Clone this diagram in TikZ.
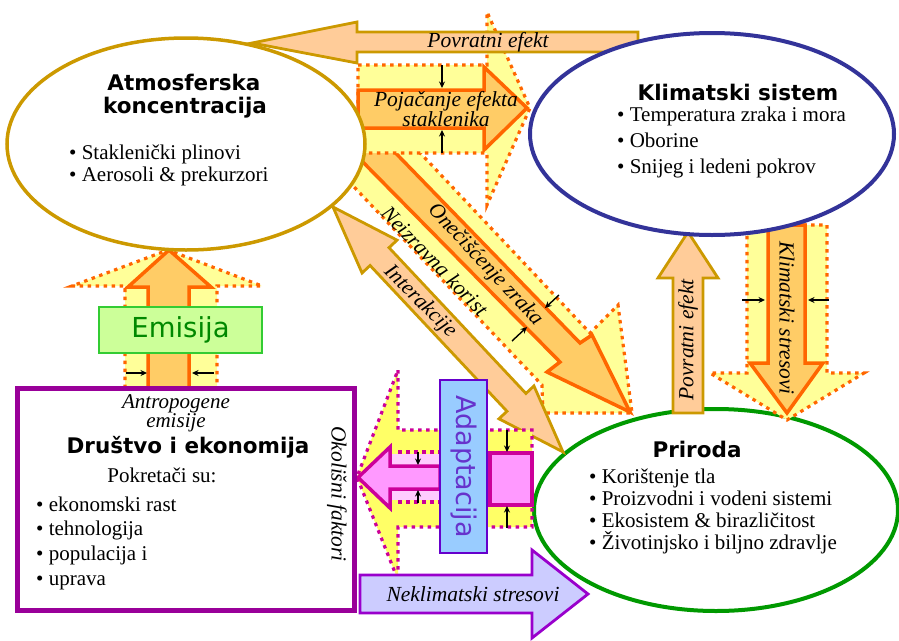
\documentclass[tikz,border=0pt]{standalone}
\usepackage{fontspec}
\setmainfont{Liberation Serif}
\newfontfamily\vsans{DejaVu Sans}
\usetikzlibrary{arrows.meta}
\definecolor{gold}{HTML}{CC9900}
\definecolor{peach}{HTML}{FFCC99}
\definecolor{orng}{HTML}{FF6600}
\definecolor{lorng}{HTML}{FFCC66}
\definecolor{lyel}{HTML}{FFFF99}
\definecolor{myel}{HTML}{FFFF66}
\definecolor{kblue}{HTML}{333399}
\definecolor{pgreen}{HTML}{009900}
\definecolor{dpurp}{HTML}{990099}
\definecolor{mag}{HTML}{CC0099}
\definecolor{pinkf}{HTML}{FF99FF}
\definecolor{lpink}{HTML}{FFCCFF}
\definecolor{adfill}{HTML}{99CCFF}
\definecolor{adborder}{HTML}{6600CC}
\definecolor{adtext}{HTML}{6633CC}
\definecolor{emborder}{HTML}{33CC33}
\definecolor{emfill}{HTML}{CCFF99}
\definecolor{emtext}{HTML}{008800}
\definecolor{nkborder}{HTML}{9900CC}
\definecolor{nkfill}{HTML}{CCCCFF}
\newcommand{\dbarrowpath}[5]{%
  \path[#1] (#5,-#3) -- ({#2-#5},-#3) -- ({#2-#5},-#4) -- (#2,0) -- ({#2-#5},#4) -- ({#2-#5},#3) -- (#5,#3) -- (#5,#4) -- (0,0) -- (#5,-#4) -- cycle;}
\tikzset{
  envO/.style={fill=lyel, draw=orng, line width=3.2pt, dash pattern=on 3.5pt off 4.5pt},
  solO/.style={fill=lorng, draw=orng, line width=3.5pt, line join=miter},
  goldA/.style={fill=peach, draw=gold, line width=2.8pt, line join=miter},
  envM/.style={fill=myel, draw=mag, line width=3.2pt, dash pattern=on 3.5pt off 4.5pt},
  solM/.style={fill=pinkf, draw=mag, line width=3.5pt, line join=miter},
  blk/.style={-{Stealth[length=6.5pt,width=6pt]}, line width=1.4pt},
  lbl/.style={font=\fontsize{21.5}{22}\selectfont\itshape, inner sep=0pt},
  body/.style={font=\fontsize{21}{22}\selectfont, inner sep=0pt, align=left, anchor=west},
  ttl/.style={font=\vsans\bfseries\fontsize{21.5}{25}\selectfont, inner sep=0pt},
}
\begin{document}
\begin{tikzpicture}[x=1pt,y=-1pt]
\useasboundingbox[fill=white] (0,0) rectangle (899,640);

% Priroda ellipse (under arrows)
\draw[pgreen, line width=4pt, fill=white] (716,510) ellipse [x radius=182, y radius=101];
\node (prirodaC) at (716,510) {};

% Oneciscenje zraka
\path[envO] (408,140) -- (590,333) -- (618,305) -- (632,413) -- (543,413) -- (542,385) -- (319,150) -- cycle;
\path[solO] (383,140) -- (580,343) -- (592,335) -- (630,412) -- (547,372) -- (560,362) -- (351,150) -- cycle;
\draw[blk] (559,295) -- (545,308);
\draw[blk] (512,341) -- (527,327);

% Pojacanje efekta staklenika
\path[envO] (358,65) -- (487,65) -- (487,12) -- (530,108) -- (487,205) -- (487,153) -- (358,153) -- cycle;
\path[solO] (358,90) -- (484,90) -- (484,67) -- (527,108) -- (484,150) -- (484,128) -- (358,128) -- cycle;
\draw[blk] (442,65) -- (442,88);
\draw[blk] (442,153) -- (442,130);

% Interakcije
\coordinate (ia) at (333,207);
\begin{scope}[shift={(ia)}, rotate=-46.8]
  \dbarrowpath{goldA}{336}{13}{24}{68}
\end{scope}

% Povratni efekt (top)
\path[goldA] (638,32) -- (357,32) -- (357,22) -- (252,43) -- (357,63) -- (357,52) -- (638,52) -- cycle;

% Emisija
\path[envO] (125,388) -- (125,286) -- (72,286) -- (168,250) -- (262,286) -- (217,286) -- (217,388) -- cycle;
\path[solO] (148,388) -- (148,287) -- (128,287) -- (169,250) -- (211,287) -- (189,287) -- (189,388) -- cycle;
\draw[blk] (126,373) -- (147,373);
\draw[blk] (214,373) -- (192,373);
\node[draw=emborder, fill=emfill, line width=2.5pt, minimum width=163pt, minimum height=46pt, inner sep=0pt,
      font=\vsans\fontsize{27.5}{30}\selectfont, text=emtext] (emisija) at (180.5,330) {Emisija};

% Klimatski stresovi
\path[envO] (747,225) -- (827,225) -- (827,373) -- (864,373) -- (787,420) -- (710,373) -- (747,373) -- cycle;
\path[solO] (768,225) -- (805,225) -- (805,363) -- (823,363) -- (787,413) -- (750,363) -- (768,363) -- cycle;
\draw[blk] (742,300) -- (765,300);
\draw[blk] (829,300) -- (808,300);

% Povratni efekt (vertical)
\path[goldA] (673,413) -- (673,278) -- (658,278) -- (688,232) -- (718,278) -- (703,278) -- (703,413) -- cycle;

% Pink arrow (okolisni faktori)
\path[envM] (398,370) -- (398,430) -- (532,430) -- (532,527) -- (398,527) -- (398,580) -- (357,477) -- cycle;
\fill[lpink] (392,454) rectangle (440,500);
\draw[mag, line width=3.2pt, dash pattern=on 3.5pt off 4.5pt] (398,452) -- (440,452) (398,502) -- (440,502);
\path[solM] (440,466) -- (390,466) -- (390,447) -- (358,477.5) -- (390,508) -- (390,489) -- (440,489) -- cycle;
\path[solM] (490,453) rectangle (532,505);
\draw[blk] (418,452) -- (418,465);
\draw[blk] (418,503) -- (418,490);
\draw[blk] (507,430) -- (507,452);
\draw[blk] (507,528) -- (507,506);

% Adaptacija
\node[draw=adborder, fill=adfill, line width=2.5pt, minimum width=47pt, minimum height=173pt, inner sep=0pt] (adapt) at (463.5,466.5) {};
\node[rotate=-90, font=\vsans\fontsize{27}{30}\selectfont, text=adtext, inner sep=0pt] at (adapt.center) {Adaptacija};

% Neklimatski stresovi
\path[fill=nkfill, draw=nkborder, line width=2.8pt, line join=miter] (360,575) -- (532,575) -- (532,550) -- (588,594) -- (532,638) -- (532,613) -- (360,613) -- cycle;

% Ellipses
\draw[gold, line width=3.5pt, fill=white] (186,144) ellipse [x radius=179, y radius=106];
\node (atmC) at (186,144) {};
\draw[kblue, line width=4pt, fill=white] (712,134) ellipse [x radius=182, y radius=101];
\node (klimC) at (712,134) {};

% Drustvo box
\draw[dpurp, line width=5pt, fill=white] (17,388) rectangle (354,610);
\node (drustvo) at (185,499) {};

% Texts
\node[ttl] (t1) at (184,82) {Atmosferska};
\node[ttl] (t2) at (185,108) {koncentracija};
\node[body] (b1) at (69,165) {• Staklenički plinovi\\• Aerosoli \& prekurzori};

\node[ttl] (t3) at (738,92) {Klimatski sistem};
\node[body, font=\fontsize{21}{26}\selectfont] (b2) at (617,142) {• Temperatura zraka i mora\\• Oborine\\• Snijeg i ledeni pokrov};

\node[ttl] (t4) at (697,449) {Priroda};
\node[body] (b3) at (589,511) {• Korištenje tla\\• Proizvodni i vodeni sistemi\\• Ekosistem \& birazličitost\\• Životinjsko i biljno zdravlje};

\node[lbl, align=center, font=\fontsize{21}{18}\selectfont\itshape] (ae) at (176,413) {Antropogene\\emisije};
\node[ttl] (t5) at (188,447) {Društvo i ekonomija};
\node[body, anchor=center] (pk) at (162,475) {Pokretači su:};
\node[body, font=\fontsize{21}{24.7}\selectfont] (b4) at (36,543) {• ekonomski rast\\• tehnologija\\• populacija i\\• uprava};
\node[lbl, rotate=-90] (of) at (337,494) {Okolišni faktori};

\node[lbl] (pe1) at (488,42) {Povratni efekt};
\node[lbl, align=center, font=\fontsize{21.5}{20}\selectfont\itshape] (pes) at (446,109) {Pojačanje efekta\\staklenika};
\node[lbl, rotate=-47] (ozl) at (485,265) {Onečišćenje zraka};
\node[lbl, rotate=-46] (nk) at (435,261) {Neizravna korist};
\node[lbl, rotate=-45] (int) at (420,302) {Interakcije};
\node[lbl, rotate=90] (pe2) at (688,340) {Povratni efekt};
\node[lbl, rotate=-90] (ks) at (787,318) {Klimatski stresovi};
\node[lbl] (nks) at (473,594) {Neklimatski stresovi};
\end{tikzpicture}
\end{document}
